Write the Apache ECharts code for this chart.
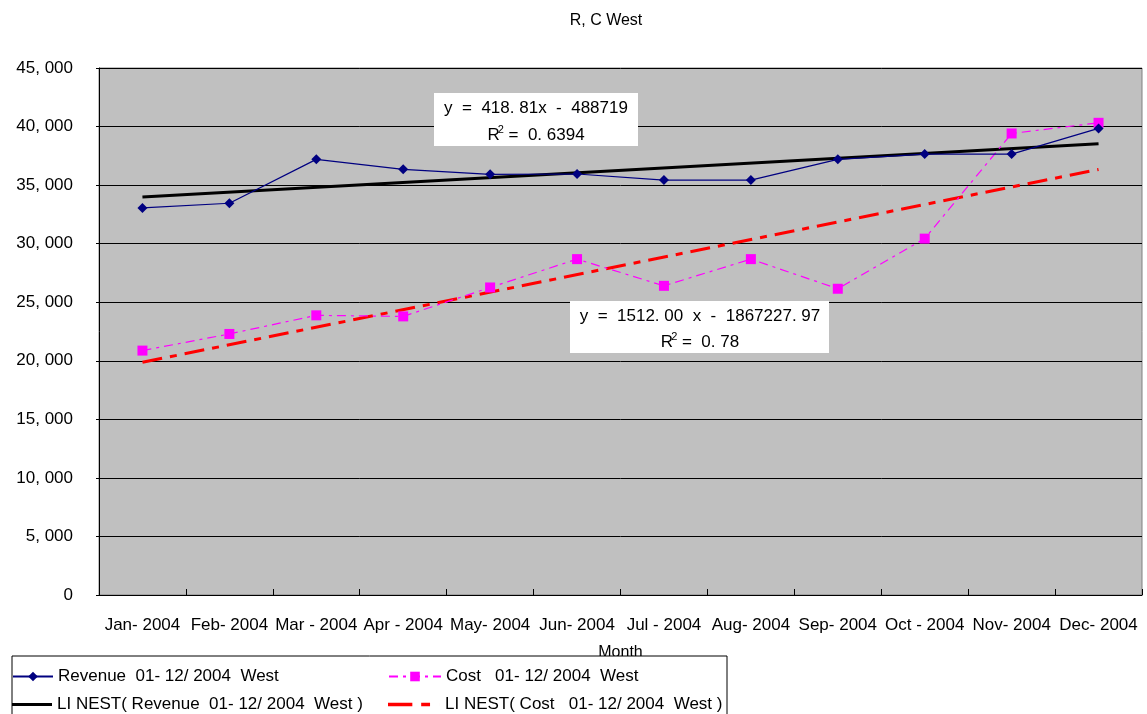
<!DOCTYPE html>
<html>
<head>
<meta charset="utf-8">
<script src="https://cdn.jsdelivr.net/npm/echarts@6/dist/echarts.min.js"></script>
<style>
html,body{margin:0;padding:0;background:#fff;}
#chart{width:1147px;height:714px;}
</style>
</head>
<body>
<div id="chart"></div>
<script>
const months = ['Jan- 2004','Feb- 2004','Mar - 2004','Apr - 2004','May- 2004','Jun- 2004','Jul - 2004','Aug- 2004','Sep- 2004','Oct - 2004','Nov- 2004','Dec- 2004'];
const revenue = [33050, 33450, 37200, 36350, 35920, 35950, 35430, 35430, 37200, 37650, 37650, 39840];
const cost = [20870, 22290, 23880, 23790, 26260, 28680, 26400, 28680, 26150, 30430, 39410, 40320];
// trend lines read at first and last month
const revenueTrendEnds = [33990, 38530];
const costTrendEnds = [19870, 36340];

function endsToSeries(ends, n) {
  const arr = new Array(n).fill(null);
  arr[0] = ends[0];
  arr[n - 1] = ends[1];
  return arr;
}

const FONT = 'Liberation Sans, Arial, sans-serif';
const N_REV = 'Revenue  01- 12/ 2004  West';
const N_COST = 'Cost   01- 12/ 2004  West';
const N_REVT = 'LI NEST( Revenue  01- 12/ 2004  West )';
const N_COSTT = 'LI NEST( Cost   01- 12/ 2004  West )';
const chart = echarts.init(document.getElementById('chart'), null, {renderer: 'canvas'});

const legendText = {fontFamily: FONT, fontSize: 17, color: '#000'};
function oneLegend(left, top, w, item) {
  return {
    orient: 'horizontal', left: left, top: top, padding: 0, z: 10,
    itemWidth: w, itemHeight: 12, itemGap: 6,
    textStyle: legendText, data: [item]
  };
}
const option = {
  backgroundColor: '#ffffff',
  animation: false,
  title: {
    text: 'R, C West',
    left: 601, top: 8, textAlign: 'center',
    textStyle: {fontFamily: FONT, fontSize: 16, fontWeight: 'normal', color: '#000'}
  },
  grid: {
    left: 99, right: 5, top: 68, bottom: 119,
    show: true, backgroundColor: '#c0c0c0', borderColor: '#808080', borderWidth: 1,
    containLabel: false
  },
  xAxis: {
    type: 'category',
    data: months,
    boundaryGap: true,
    name: 'Month',
    nameLocation: 'middle',
    nameGap: 50,
    nameTextStyle: {fontFamily: FONT, fontSize: 16, color: '#000'},
    axisLine: {lineStyle: {color: '#000', width: 1}},
    axisTick: {show: true, inside: true, length: 6, lineStyle: {color: '#000'}},
    axisLabel: {fontFamily: FONT, fontSize: 17, color: '#000', margin: 22, interval: 0}
  },
  yAxis: {
    type: 'value',
    min: 0, max: 45000, interval: 5000,
    axisLine: {show: true, lineStyle: {color: '#000', width: 1}},
    axisTick: {show: true, length: 3, lineStyle: {color: '#000'}},
    splitLine: {show: true, lineStyle: {color: '#000', width: 1}},
    axisLabel: {
      fontFamily: FONT, fontSize: 17, color: '#000', margin: 26,
      formatter: function (v) {
        if (v === 0) return '0';
        return v.toLocaleString('en-US').replace(',', ', ');
      }
    }
  },
  legend: [
    oneLegend(12, 668, 40, {name: N_REV}),
    oneLegend(12, 696, 40, {name: N_REVT, icon: 'path://M0,0h40v3h-40z'}),
    oneLegend(388, 668, 52, {name: N_COST}),
    oneLegend(388, 696, 52, {name: N_COSTT, icon: 'path://M4,0h22v3h-22z M34,0h8v3h-8z M51,0h0.01v3h-0.01z'})
  ],
  graphic: [
    {
      type: 'rect', z: 5, silent: true,
      shape: {x: 12, y: 656, width: 715, height: 70},
      style: {fill: '#fff', stroke: '#000', lineWidth: 1}
    },
    {type: 'rect', z: 100, shape: {x: 434, y: 93, width: 204, height: 53}, style: {fill: '#fff'}},
    {type: 'text', z: 101, x: 536, y: 108, style: {text: 'y  =  418. 81x  -  488719', fontFamily: FONT, fontSize: 17, fill: '#000', textAlign: 'center', textVerticalAlign: 'middle'}},
    {type: 'text', z: 101, x: 536, y: 135, style: {
      text: '{b|R}{s|2}{b| =  0. 6394}', textAlign: 'center', textVerticalAlign: 'middle',
      rich: {b: {fontFamily: FONT, fontSize: 17, color: '#000'}, s: {fontFamily: FONT, fontSize: 11, color: '#000', padding: [0, 0, 10, -2]}}
    }},
    {type: 'rect', z: 100, shape: {x: 570, y: 301, width: 259, height: 52}, style: {fill: '#fff'}},
    {type: 'text', z: 101, x: 700, y: 316, style: {text: 'y  =  1512. 00  x  -  1867227. 97', fontFamily: FONT, fontSize: 17, fill: '#000', textAlign: 'center', textVerticalAlign: 'middle'}},
    {type: 'text', z: 101, x: 700, y: 342, style: {
      text: '{b|R}{s|2}{b| =  0. 78}', textAlign: 'center', textVerticalAlign: 'middle',
      rich: {b: {fontFamily: FONT, fontSize: 17, color: '#000'}, s: {fontFamily: FONT, fontSize: 11, color: '#000', padding: [0, 0, 10, -2]}}
    }}
  ],
  series: [
    {
      name: N_REV,
      type: 'line', data: revenue, z: 5,
      symbol: 'diamond', symbolSize: 10,
      lineStyle: {color: '#000080', width: 1.2},
      itemStyle: {color: '#000080'}
    },
    {
      name: N_COST,
      type: 'line', data: cost, z: 4,
      symbol: 'rect', symbolSize: 10,
      lineStyle: {color: '#ff00ff', width: 1.2, type: [9, 5, 3, 5]},
      itemStyle: {color: '#ff00ff'}
    },
    {
      name: N_REVT,
      type: 'line', data: endsToSeries(revenueTrendEnds, months.length), connectNulls: true, z: 3,
      symbol: 'none',
      lineStyle: {color: '#000', width: 3},
      itemStyle: {color: '#000'}
    },
    {
      name: N_COSTT,
      type: 'line', data: endsToSeries(costTrendEnds, months.length), connectNulls: true, z: 3,
      symbol: 'none',
      lineStyle: {color: '#ff0000', width: 3, type: [20, 8, 7, 8]},
      itemStyle: {color: '#ff0000'}
    }
  ]
};
chart.setOption(option);
</script>
</body>
</html>
